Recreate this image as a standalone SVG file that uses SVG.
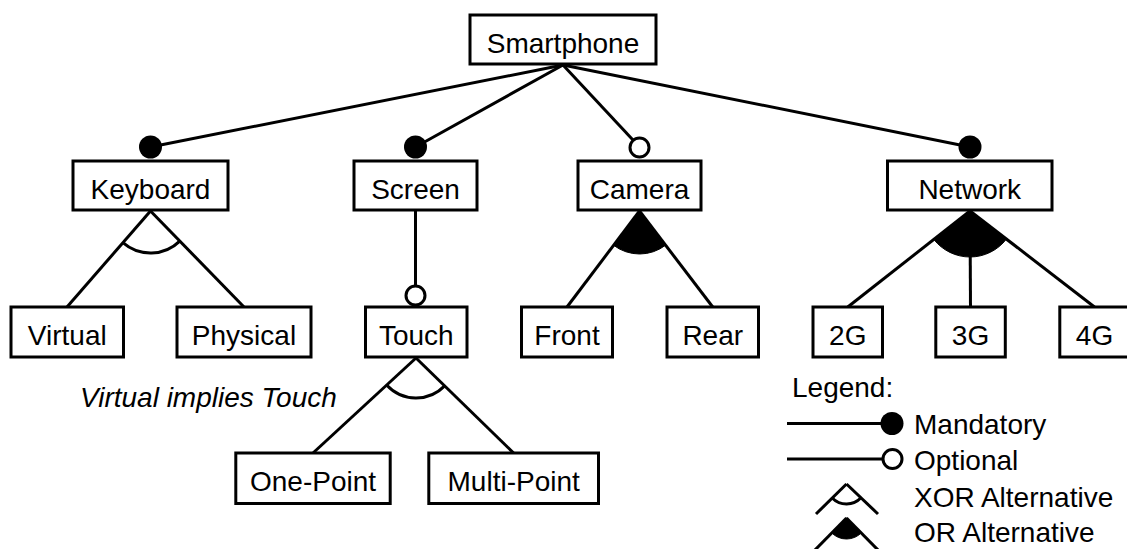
<svg xmlns="http://www.w3.org/2000/svg" width="1127" height="549" viewBox="0 0 1127 549">
<style>
.box{fill:#fff;stroke:#000;stroke-width:3}
.lbl{font-family:"Liberation Sans",Arial,sans-serif;font-size:28px;fill:#000;text-anchor:middle}
.lt{font-family:"Liberation Sans",Arial,sans-serif;font-size:28px;fill:#000}
.ln{stroke:#000;stroke-width:3;fill:none}
.man{fill:#000;stroke:none}
.opt{fill:#fff;stroke:#000;stroke-width:3}
.or{fill:#000;stroke:#000;stroke-width:1}
</style>
<rect width="1127" height="549" fill="#fff"/>
<g id="connectors">
<line class="ln" x1="563" y1="65" x2="150.5" y2="147"/>
<line class="ln" x1="563" y1="65" x2="415.5" y2="147"/>
<line class="ln" x1="563" y1="65" x2="639.5" y2="147"/>
<line class="ln" x1="563" y1="65" x2="970" y2="147"/>
<line class="ln" x1="150.5" y1="211" x2="67" y2="307"/>
<line class="ln" x1="150.5" y1="211" x2="244" y2="307"/>
<path class="ln" d="M122.9,242.7 A42,42 0 0 0 179.8,241.1"/>
<line class="ln" x1="415.5" y1="210" x2="415.5" y2="295"/>
<line class="ln" x1="639.5" y1="211" x2="567" y2="307"/>
<line class="ln" x1="639.5" y1="211" x2="712.75" y2="307"/>
<path class="or" d="M639.5,211 L613.6,245.3 A43,43 0 0 0 665.6,245.2 Z"/>
<line class="ln" x1="970" y1="211" x2="847.75" y2="307"/>
<line class="ln" x1="970" y1="211" x2="970.5" y2="307"/>
<line class="ln" x1="970" y1="211" x2="1094.5" y2="307"/>
<path class="or" d="M970,211 L933.8,239.4 A46,46 0 0 0 1006.4,239.1 Z"/>
<line class="ln" x1="416" y1="358" x2="313" y2="453"/>
<line class="ln" x1="416" y1="358" x2="513.6" y2="453"/>
<path class="ln" d="M386.6,385.1 A40,40 0 0 0 444.7,385.9"/>
<circle class="man" cx="150.5" cy="147" r="11.5"/>
<circle class="man" cx="415.5" cy="147" r="11.5"/>
<circle class="opt" cx="639.5" cy="147.5" r="9.5"/>
<circle class="man" cx="970" cy="147" r="11.5"/>
<circle class="opt" cx="415.5" cy="295.5" r="9.5"/>
</g>
<g id="smartphone"><rect class="box" x="470" y="15" width="186" height="49"/><text class="lbl" x="563" y="52.5">Smartphone</text></g>
<g id="keyboard"><rect class="box" x="73" y="161" width="155" height="49"/><text class="lbl" x="150.5" y="198.5">Keyboard</text></g>
<g id="screen"><rect class="box" x="354" y="161" width="123" height="49"/><text class="lbl" x="415.5" y="198.5">Screen</text></g>
<g id="camera"><rect class="box" x="578" y="161" width="123" height="49"/><text class="lbl" x="639.5" y="198.5">Camera</text></g>
<g id="network"><rect class="box" x="887.5" y="161" width="164.5" height="49"/><text class="lbl" x="969.75" y="198.5">Network</text></g>
<g id="virtual"><rect class="box" x="11" y="307" width="112.5" height="50"/><text class="lbl" x="67.25" y="344.5">Virtual</text></g>
<g id="physical"><rect class="box" x="177" y="307" width="134" height="50"/><text class="lbl" x="244" y="344.5">Physical</text></g>
<g id="touch"><rect class="box" x="365.5" y="307" width="101.5" height="50"/><text class="lbl" x="416.25" y="344.5">Touch</text></g>
<g id="front"><rect class="box" x="521.5" y="307" width="91" height="50"/><text class="lbl" x="567" y="344.5">Front</text></g>
<g id="rear"><rect class="box" x="667" y="307" width="91.5" height="50"/><text class="lbl" x="712.75" y="344.5">Rear</text></g>
<g id="g2"><rect class="box" x="813" y="307" width="69.5" height="50"/><text class="lbl" x="847.75" y="344.5">2G</text></g>
<g id="g3"><rect class="box" x="935.8" y="307" width="69.5" height="50"/><text class="lbl" x="970.55" y="344.5">3G</text></g>
<g id="g4"><rect class="box" x="1059.8" y="307" width="69.5" height="50"/><text class="lbl" x="1094.55" y="344.5">4G</text></g>
<g id="onepoint"><rect class="box" x="235.8" y="453" width="154.4" height="50.5"/><text class="lbl" x="313" y="490.7">One-Point</text></g>
<g id="multipoint"><rect class="box" x="428.8" y="453" width="169.7" height="50.5"/><text class="lbl" x="513.65" y="490.7">Multi-Point</text></g>
<g id="constraint"><text class="lt" x="80" y="407" font-style="italic">Virtual implies Touch</text></g>
<g id="legend">
<text class="lt" x="792" y="397">Legend:</text>
<line class="ln" x1="787" y1="423.5" x2="885" y2="423.5"/>
<circle class="man" cx="892" cy="423.5" r="11.5"/>
<text class="lt" x="914" y="434">Mandatory</text>
<line class="ln" x1="787" y1="459" x2="883" y2="459"/>
<circle class="opt" cx="892.5" cy="459" r="9.5"/>
<text class="lt" x="914" y="470">Optional</text>
<line class="ln" x1="846.5" y1="484" x2="816" y2="514"/>
<line class="ln" x1="846.5" y1="484" x2="878" y2="514"/>
<path class="ln" d="M832.2,498 A20,20 0 0 0 861,497.8"/>
<text class="lt" x="914" y="507">XOR Alternative</text>
<line class="ln" x1="846.5" y1="518" x2="813" y2="552"/>
<line class="ln" x1="846.5" y1="518" x2="880" y2="552"/>
<path class="or" d="M846.5,518 L831.5,532.7 A21,21 0 0 0 861.7,532.5 Z"/>
<text class="lt" x="914" y="542">OR Alternative</text>
</g>
</svg>
